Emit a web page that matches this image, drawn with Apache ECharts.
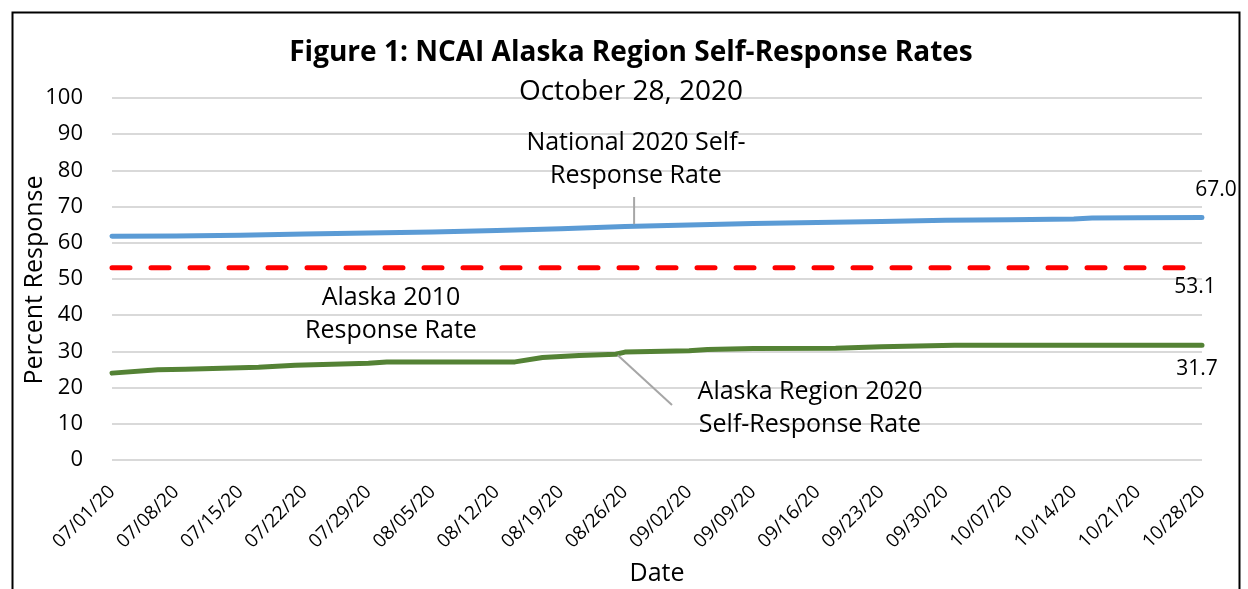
<!DOCTYPE html>
<html><head><meta charset="utf-8">
<script src="https://cdn.jsdelivr.net/npm/echarts@6/dist/echarts.min.js"></script>
<style>html,body{margin:0;padding:0;background:#fff}#c{width:1248px;height:589px}</style>
</head><body><div id="c"></div>
<script>
const tickLabels = ['07/01/20','07/08/20','07/15/20','07/22/20','07/29/20','08/05/20','08/12/20','08/19/20','08/26/20','09/02/20','09/09/20','09/16/20','09/23/20','09/30/20','10/07/20','10/14/20','10/21/20','10/28/20'];
// day offsets from 07/01/20
const nationalDays   = [0,7,14,21,28,35,42,49,56,63,70,77,84,91,98,105,107,112,119];
const nationalValues = [61.8,61.9,62.1,62.4,62.7,63.0,63.4,63.9,64.5,64.9,65.3,65.6,65.9,66.2,66.4,66.6,66.85,66.95,67.0];
const alaskaDays   = [0,5,8,14,16,20,28,30,44,47,51,55,56,63,65,70,79,84,92,119];
const alaskaValues = [24.0,24.9,25.1,25.5,25.6,26.2,26.7,27.1,27.1,28.3,28.9,29.2,29.8,30.2,30.5,30.8,30.9,31.3,31.7,31.7];
const alaska2010Days = [0,119];
const alaska2010Values = [53.1,53.1];

const FONT = 'Open Sans';
function build(days, vals, label){
  return days.map((d,i)=>{
    const item = {value:[d, vals[i]]};
    if(i===days.length-1 && label) item.label = Object.assign({show:true, formatter: p=>p.value[1].toFixed(1), color:'#000', fontFamily:FONT, fontSize:21}, label);
    return item;
  });
}
const chart = echarts.init(document.getElementById('c'), null, {renderer:'canvas'});
const option = {
  animation:false,
  backgroundColor:'#fff',
  grid:{left:112, right:46, top:98, bottom:129, containLabel:false},
  xAxis:{type:'value', min:0, max:119, interval:7,
    axisLine:{show:false}, axisTick:{show:false}, splitLine:{show:false},
    axisLabel:{rotate:45, margin:29, color:'#000', fontFamily:FONT, fontSize:19, formatter:v=>tickLabels[v/7]||''}
  },
  yAxis:{type:'value', min:0, max:100, interval:10,
    axisLine:{show:false}, axisTick:{show:false},
    splitLine:{lineStyle:{color:'#d9d9d9', width:2}},
    axisLabel:{margin:29, color:'#000', fontFamily:FONT, fontSize:22}
  },
  series:[
    {name:'National 2020 Self-Response Rate', type:'line', data:build(nationalDays,nationalValues,{position:'top', offset:[14,-12]}),
      symbol:'circle', symbolSize:0, showSymbol:true, lineStyle:{color:'#5b9bd5', width:5, cap:'round', join:'round'}, itemStyle:{color:'#5b9bd5'}, z:3},
    {name:'Alaska 2010 Response Rate', type:'line', data:build(alaska2010Days,alaska2010Values,{position:'bottom', offset:[-7,4]}),
      symbol:'circle', symbolSize:0, showSymbol:true, lineStyle:{color:'#ff0000', width:5, type:[18,21], cap:'round'}, itemStyle:{color:'#ff0000'}, z:2},
    {name:'Alaska Region 2020 Self-Response Rate', type:'line', data:build(alaskaDays,alaskaValues,{position:'bottom', offset:[-5,8]}),
      symbol:'circle', symbolSize:0, showSymbol:true, lineStyle:{color:'#548235', width:5, cap:'round', join:'round'}, itemStyle:{color:'#548235'}, z:3}
  ]
};
chart.setOption(option);

const nat = chart.convertToPixel({gridIndex:0}, [57, 64.6]);
const ak = chart.convertToPixel({gridIndex:0}, [55, 29.5]);
const annStyle = {fontFamily:FONT, fontSize:25, fill:'#000', textAlign:'center', lineHeight:33};
chart.setOption({graphic:[
  {type:'rect', shape:{x:12.5, y:12.5, width:1227, height:600}, style:{fill:'none', stroke:'#000', lineWidth:2}, silent:true},
  {type:'text', x:631, y:53, style:{text:'Figure 1: NCAI Alaska Region Self-Response Rates', fontFamily:FONT, fontSize:28, fontWeight:'bold', fill:'#000', textAlign:'center', textVerticalAlign:'middle'}},
  {type:'text', x:631, y:92, style:{text:'October 28, 2020', fontFamily:FONT, fontSize:28, fill:'#000', textAlign:'center', textVerticalAlign:'middle'}},
  {type:'text', x:657, y:574, style:{text:'Date', fontFamily:FONT, fontSize:25, fill:'#000', textAlign:'center', textVerticalAlign:'middle'}},
  {type:'text', x:35, y:280, rotation:Math.PI/2, style:{text:'Percent Response', fontFamily:FONT, fontSize:25, fill:'#000', textAlign:'center', textVerticalAlign:'middle'}},
  {type:'line', shape:{x1:nat[0], y1:197, x2:nat[0], y2:nat[1]-2}, style:{stroke:'#a6a6a6', lineWidth:2}, z:10},
  {type:'text', x:636, y:126, style:Object.assign({text:'National 2020 Self-\nResponse Rate'}, annStyle)},
  {type:'text', x:391, y:281, style:Object.assign({text:'Alaska 2010\nResponse Rate'}, annStyle)},
  {type:'line', shape:{x1:ak[0]+2, y1:ak[1]+2, x2:672, y2:405}, style:{stroke:'#a6a6a6', lineWidth:2}, z:10},
  {type:'text', x:810, y:375, style:Object.assign({text:'Alaska Region 2020\nSelf-Response Rate'}, annStyle)}
]});
</script></body></html>
